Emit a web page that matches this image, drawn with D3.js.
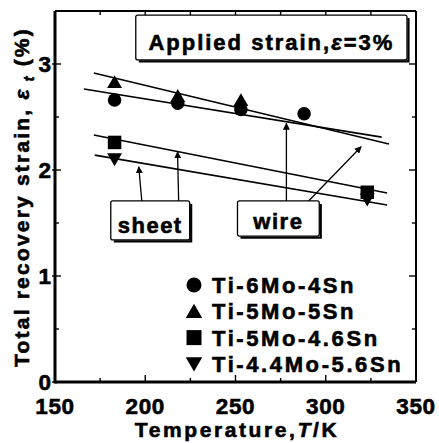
<!DOCTYPE html>
<html>
<head>
<meta charset="utf-8">
<script src="https://cdn.jsdelivr.net/npm/d3@7"></script>
<style>
  html, body { margin: 0; padding: 0; background: #fff; }
  svg { display: block; }
  text { font-family: "Liberation Sans", Arial, Helvetica, sans-serif; font-weight: bold; fill: #000;
         stroke: #000; stroke-width: 0.6px; }
</style>
</head>
<body>
<svg id="chart" width="439" height="443"></svg>
<script>
// Alloys (legend order) and their marker shapes
const alloys = ["Ti-6Mo-4Sn", "Ti-5Mo-5Sn", "Ti-5Mo-4.6Sn", "Ti-4.4Mo-5.6Sn"];
const shapes = ["circle", "triangleUp", "square", "triangleDown"];

// Measured total recovery strain (%) vs temperature (K)
const tempsWire = [183, 218, 253, 288];
const ti6Mo4Sn = [2.66, 2.63, 2.57, 2.53];
const ti5Mo5Sn = [2.83, 2.70, 2.66, null];
const tempsSheet = [183, 323];
const ti5Mo46Sn = [2.26, 1.79];
const ti44Mo56Sn = [2.10, 1.72];

// Linear trend lines: [T start, T end] and [value start, value end]
const fitTemps = [[166, 331], [171.5, 335], [171.5, 334], [172, 334]];
const fitValues = [[2.764, 2.31], [2.915, 2.245], [2.33, 1.783], [2.14, 1.67]];

// Axis ticks
const xTicks = [150, 200, 250, 300, 350];
const xMinor = [175, 225, 275, 325];
const yTicks = [0, 1, 2, 3];
const yMinor = [0.5, 1.5, 2.5, 3.5];

const svg = d3.select("#chart");
const pL = 55, pR = 416, pT = 11, pB = 382;
const x = d3.scaleLinear().domain([150, 350]).range([pL, pR]);
const y = d3.scaleLinear().domain([0, 3.5]).range([pB, pT]);

// Tick marks (inward on all four sides)
const tickG = svg.append("g").attr("stroke", "#000").attr("stroke-width", 1.4);
xTicks.forEach(t => {
  tickG.append("line").attr("x1", x(t)).attr("x2", x(t)).attr("y1", pB).attr("y2", pB - 7);
  tickG.append("line").attr("x1", x(t)).attr("x2", x(t)).attr("y1", pT).attr("y2", pT + 7);
});
xMinor.forEach(t => {
  tickG.append("line").attr("x1", x(t)).attr("x2", x(t)).attr("y1", pB).attr("y2", pB - 4);
  tickG.append("line").attr("x1", x(t)).attr("x2", x(t)).attr("y1", pT).attr("y2", pT + 4);
});
yTicks.forEach(v => {
  tickG.append("line").attr("x1", pL - 3).attr("x2", pL + 6).attr("y1", y(v)).attr("y2", y(v));
  tickG.append("line").attr("x1", pR).attr("x2", pR - 7).attr("y1", y(v)).attr("y2", y(v));
});
yMinor.forEach(v => {
  tickG.append("line").attr("x1", pL).attr("x2", pL + 4).attr("y1", y(v)).attr("y2", y(v));
  tickG.append("line").attr("x1", pR).attr("x2", pR - 4).attr("y1", y(v)).attr("y2", y(v));
});

// Frame
svg.append("line").attr("x1", pL).attr("x2", pR).attr("y1", pT).attr("y2", pT)
  .attr("stroke", "#000").attr("stroke-width", 2);
svg.append("line").attr("x1", pR).attr("x2", pR).attr("y1", pT).attr("y2", pB)
  .attr("stroke", "#000").attr("stroke-width", 2);
svg.append("line").attr("x1", pL).attr("x2", pL).attr("y1", pT).attr("y2", pB + 1.5)
  .attr("stroke", "#000").attr("stroke-width", 3);
svg.append("line").attr("x1", pL).attr("x2", pR).attr("y1", pB).attr("y2", pB)
  .attr("stroke", "#000").attr("stroke-width", 3);

// Tick labels
svg.append("g").selectAll("text").data(xTicks).join("text")
  .attr("x", d => x(d)).attr("y", 414)
  .attr("text-anchor", "middle").attr("font-size", 22.5).attr("letter-spacing", 0.6)
  .text(d => d);
svg.append("g").selectAll("text").data(yTicks).join("text")
  .attr("x", 51).attr("y", d => y(d) + 7.5)
  .attr("text-anchor", "end").attr("font-size", 22.5)
  .text(d => d);

// Axis titles
const xt = svg.append("text").attr("x", 237).attr("y", 437).attr("text-anchor", "middle")
  .attr("font-size", 21).attr("letter-spacing", 2.6);
xt.append("tspan").text("Temperature,");
xt.append("tspan").attr("font-style", "italic").text("T");
xt.append("tspan").text("/K");

const yt = svg.append("text").attr("transform", "translate(29,197) rotate(-90)")
  .attr("text-anchor", "middle").attr("font-size", 21).attr("letter-spacing", 2.2);
yt.append("tspan").text("Total recovery strain, ");
yt.append("tspan").attr("font-style", "italic").text("ε");
yt.append("tspan").attr("font-style", "italic").attr("font-size", 14).attr("dy", 5).text(" t");
yt.append("tspan").attr("dy", -5).text(" (%)");

// Trend lines
const lineG = svg.append("g").attr("stroke", "#000").attr("stroke-width", 1.6);
fitTemps.forEach((ts, i) => {
  lineG.append("line")
    .attr("x1", x(ts[0])).attr("y1", y(fitValues[i][0]))
    .attr("x2", x(ts[1])).attr("y2", y(fitValues[i][1]));
});

// Marker shapes
function markerPath(shape, s) {
  if (shape === "circle") {
    const p = d3.path(); p.arc(0, 0, s / 2, 0, 2 * Math.PI); return p.toString();
  }
  if (shape === "square") {
    const h = s / 2; return `M${-h},${-h}H${h}V${h}H${-h}Z`;
  }
  const w = s * 0.55, h = s * 0.5;
  if (shape === "triangleUp") return `M0,${-h}L${w},${h * 0.9}L${-w},${h * 0.9}Z`;
  return `M0,${h}L${w},${-h * 0.9}L${-w},${-h * 0.9}Z`;
}

const series = [
  { temps: tempsWire, vals: ti6Mo4Sn, shape: shapes[0] },
  { temps: tempsWire, vals: ti5Mo5Sn, shape: shapes[1] },
  { temps: tempsSheet, vals: ti5Mo46Sn, shape: shapes[2] },
  { temps: tempsSheet, vals: ti44Mo56Sn, shape: shapes[3] }
];
const markG = svg.append("g");
series.forEach(s => {
  s.temps.forEach((t, j) => {
    if (s.vals[j] == null) return;
    markG.append("path")
      .attr("d", markerPath(s.shape, 13.5))
      .attr("transform", `translate(${x(t)},${y(s.vals[j])})`)
      .attr("fill", "#000");
  });
});

// Labelled boxes with a drop shadow on the right and bottom edges
function shadowBox(x0, y0, x1, y1) {
  svg.append("rect").attr("x", x0).attr("y", y0).attr("width", x1 - x0).attr("height", y1 - y0)
    .attr("fill", "#fff").attr("stroke", "#000").attr("stroke-width", 1.3).attr("rx", 2);
  svg.append("path")
    .attr("d", `M${x1 + 1.5},${y0 + 3}V${y1 + 1.5}H${x0 + 3}`)
    .attr("fill", "none").attr("stroke", "#000").attr("stroke-width", 2.2);
}

// Arrowhead marker
svg.append("defs").append("marker")
  .attr("id", "arrow").attr("viewBox", "0 0 10 10").attr("refX", 9).attr("refY", 5)
  .attr("markerWidth", 7).attr("markerHeight", 7).attr("markerUnits", "userSpaceOnUse")
  .attr("orient", "auto")
  .append("path").attr("d", "M0,0L10,5L0,10Z").attr("fill", "#000");

// Arrows from the labels to the trend lines: [T0, v0, T1, v1]
const sheetArrows = [[198.1, 1.708, 196.4, 2.03], [218.5, 1.708, 217.9, 2.17]];
const wireArrows = [[278.2, 1.708, 278.2, 2.44], [290.5, 1.708, 319.6, 2.22]];
svg.append("g").selectAll("line").data(sheetArrows.concat(wireArrows)).join("line")
  .attr("x1", d => x(d[0])).attr("y1", d => y(d[1]))
  .attr("x2", d => x(d[2])).attr("y2", d => y(d[3]))
  .attr("stroke", "#000").attr("stroke-width", 1.3)
  .attr("marker-end", "url(#arrow)");

shadowBox(x(180.9), y(1.708), x(224.6), y(1.34));
svg.append("text").attr("x", (x(180.9) + x(224.6)) / 2).attr("y", 233)
  .attr("text-anchor", "middle").attr("font-size", 22).attr("letter-spacing", 1.5).text("sheet");

shadowBox(x(251.1), y(1.708), x(296.4), y(1.377));
svg.append("text").attr("x", (x(251.1) + x(296.4)) / 2).attr("y", 229)
  .attr("text-anchor", "middle").attr("font-size", 22).attr("letter-spacing", 1.5).text("wire");

shadowBox(x(194.75), y(3.462), x(345), y(3.038));
const at = svg.append("text").attr("x", (x(194.75) + x(345)) / 2).attr("y", 50)
  .attr("text-anchor", "middle").attr("font-size", 22).attr("letter-spacing", 2);
at.append("tspan").text("Applied strain,");
at.append("tspan").attr("font-style", "italic").text("ε");
at.append("tspan").text("=3%");

// Legend
const legend = svg.append("g");
alloys.forEach((name, i) => {
  const ly = 285 + i * 26.3;
  legend.append("path").attr("d", markerPath(shapes[i], 15))
    .attr("transform", `translate(194,${ly})`).attr("fill", "#000");
  legend.append("text").attr("x", 212).attr("y", ly + 8)
    .attr("font-size", 22).attr("letter-spacing", 2.6).text(name);
});
</script>
</body>
</html>
